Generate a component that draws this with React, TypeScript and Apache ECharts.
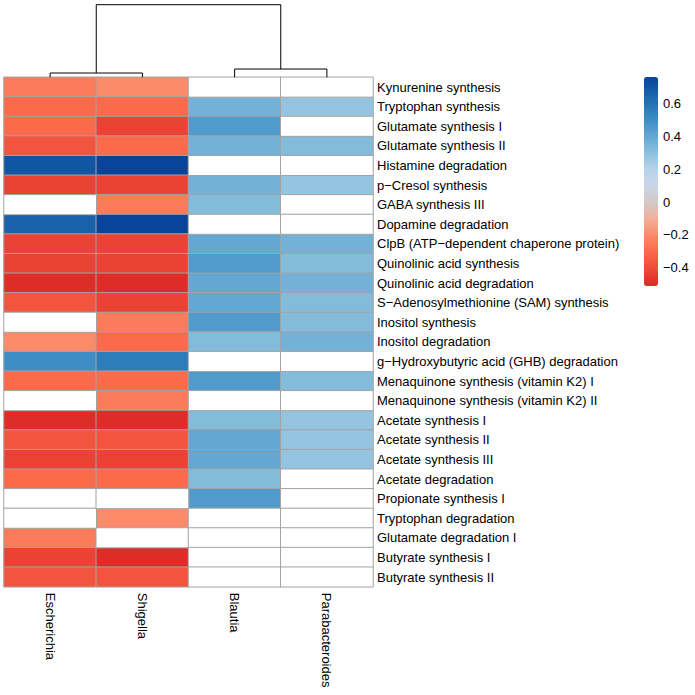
import React, { useEffect, useRef } from "react";
import * as echarts from "echarts";

const columns = ["Escherichia", "Shigella", "Blautia", "Parabacteroides"];
const rows = [
  "Kynurenine synthesis",
  "Tryptophan synthesis",
  "Glutamate synthesis I",
  "Glutamate synthesis II",
  "Histamine degradation",
  "p\u2212Cresol synthesis",
  "GABA synthesis III",
  "Dopamine degradation",
  "ClpB (ATP\u2212dependent chaperone protein)",
  "Quinolinic acid synthesis",
  "Quinolinic acid degradation",
  "S\u2212Adenosylmethionine (SAM) synthesis",
  "Inositol synthesis",
  "Inositol degradation",
  "g\u2212Hydroxybutyric acid (GHB) degradation",
  "Menaquinone synthesis (vitamin K2) I",
  "Menaquinone synthesis (vitamin K2) II",
  "Acetate synthesis I",
  "Acetate synthesis II",
  "Acetate synthesis III",
  "Acetate degradation",
  "Propionate synthesis I",
  "Tryptophan degradation",
  "Glutamate degradation I",
  "Butyrate synthesis I",
  "Butyrate synthesis II",
];

// values per column (null = not available, drawn white)
const escherichia = [-0.25, -0.3, -0.3, -0.37, 0.7, -0.43, null, 0.66, -0.43, -0.43, -0.5, -0.37, null, -0.2, 0.5, -0.3, null, -0.5, -0.37, -0.43, -0.3, null, null, -0.25, -0.43, -0.37];
const shigella = [-0.2, -0.3, -0.43, -0.3, 0.76, -0.43, -0.25, 0.76, -0.43, -0.43, -0.5, -0.43, -0.25, -0.3, 0.56, -0.3, -0.25, -0.5, -0.37, -0.43, -0.3, null, -0.2, null, -0.5, -0.37];
const blautia = [null, 0.36, 0.45, 0.36, null, 0.36, 0.32, null, 0.4, 0.45, 0.4, 0.4, 0.45, 0.32, null, 0.45, null, 0.32, 0.4, 0.4, 0.32, 0.45, null, null, null, null];
const parabacteroides = [null, 0.28, null, 0.32, null, 0.28, null, null, 0.36, 0.32, 0.36, 0.32, 0.32, 0.36, null, 0.32, null, 0.28, 0.28, 0.28, null, null, null, null, null, null];
const columnValues = [escherichia, shigella, blautia, parabacteroides];

// dendrogram merges: [xLeft, xRight, heightLeftChild, heightRightChild, mergeHeight]
const dendroMerges = [
  [0, 1, 0, 0, 0.059],
  [2, 3, 0, 0, 0.114],
  [0.5, 2.5, 0.059, 0.114, 1],
];

const legendTicks = [-0.4, -0.2, 0, 0.2, 0.4, 0.6];
const scaleMin = -0.51;
const scaleMax = 0.76;

// palette stops (value, colour)
const paletteStops: [number, string][] = [
  [-0.51, "#dc2a25"],
  [-0.4, "#ef4b39"],
  [-0.3, "#fb6a4a"],
  [-0.2, "#fc8b6a"],
  [-0.1, "#f3b09c"],
  [0, "#d2c9c7"],
  [0.1, "#c8d6e6"],
  [0.2, "#b7d4ea"],
  [0.3, "#8bc0dd"],
  [0.4, "#63a8d3"],
  [0.5, "#3e8ec5"],
  [0.6, "#2272b5"],
  [0.76, "#08449a"],
];

function hexToRgb(h: string) {
  const n = parseInt(h.slice(1), 16);
  return [(n >> 16) & 255, (n >> 8) & 255, n & 255];
}
function colorAt(v: number) {
  for (let i = 0; i < paletteStops.length - 1; i++) {
    const [v0, c0] = paletteStops[i];
    const [v1, c1] = paletteStops[i + 1];
    if (v <= v1 || i === paletteStops.length - 2) {
      const t = Math.max(0, Math.min(1, (v - v0) / (v1 - v0)));
      const a = hexToRgb(c0);
      const b = hexToRgb(c1);
      const r = a.map((x, k) => Math.round(x + (b[k] - x) * t));
      return `rgb(${r[0]},${r[1]},${r[2]})`;
    }
  }
  return paletteStops[0][1];
}

export default function App() {
  const ref = useRef<HTMLDivElement>(null);
  useEffect(() => {
    if (!ref.current) return;
    const chart = echarts.init(ref.current, undefined, { renderer: "svg" });

    const steps = 100;
    const rampColors: string[] = [];
    for (let i = 0; i <= steps; i++) {
      rampColors.push(colorAt(scaleMin + ((scaleMax - scaleMin) * i) / steps));
    }

    const valued: any[] = [];
    const missing: any[] = [];
    columnValues.forEach((col, ci) => {
      col.forEach((v, ri) => {
        if (v === null) missing.push([ci, ri, 0]);
        else valued.push([ci, ri, v]);
      });
    });

    const font = "'Liberation Sans', Arial, Helvetica, sans-serif";
    const fmt = (v: number) => (v < 0 ? "\u2212" + Math.abs(v) : String(v));

    chart.setOption({
      animation: false,
      backgroundColor: "#ffffff",
      grid: [
        { left: 4, top: 77.3, width: 369, height: 509.5 },
        { left: 4, top: 4.7, width: 369, height: 72.6 },
        { left: 644, top: 77, width: 14, height: 209 },
      ],
      xAxis: [
        {
          type: "category",
          gridIndex: 0,
          data: columns,
          position: "bottom",
          axisLine: { show: false },
          axisTick: { show: false },
          splitLine: { show: false },
          axisLabel: {
            rotate: -90,
            margin: 6,
            color: "#000",
            fontSize: 13,
            fontFamily: font,
          },
        },
        { type: "value", gridIndex: 1, min: -0.5, max: 3.5, show: false },
        { type: "value", gridIndex: 2, min: 0, max: 1, show: false },
      ],
      yAxis: [
        {
          type: "category",
          gridIndex: 0,
          data: rows,
          inverse: true,
          position: "right",
          axisLine: { show: false },
          axisTick: { show: false },
          splitLine: { show: false },
          axisLabel: {
            margin: 4,
            color: "#000",
            fontSize: 13,
            fontFamily: font,
            interval: 0,
          },
        },
        { type: "value", gridIndex: 1, min: 0, max: 1, show: false },
        {
          type: "value",
          gridIndex: 2,
          min: scaleMin,
          max: scaleMax,
          position: "right",
          axisLine: { show: false },
          axisTick: { show: false },
          splitLine: { show: false },
          axisLabel: {
            customValues: legendTicks,
            margin: 5,
            color: "#000",
            fontSize: 13,
            fontFamily: font,
            formatter: fmt,
          },
        },
      ],
      visualMap: [
        {
          type: "continuous",
          seriesIndex: 0,
          min: scaleMin,
          max: scaleMax,
          calculable: false,
          orient: "vertical",
          left: 644,
          top: 77,
          itemWidth: 14,
          itemHeight: 209,
          padding: 0,
          showLabel: false,
          inRange: { color: rampColors },
        },
        {
          type: "continuous",
          seriesIndex: 1,
          min: 0,
          max: 1,
          show: false,
          inRange: { color: ["#ffffff", "#ffffff"] },
        },
      ],
      series: [
        {
          type: "heatmap",
          xAxisIndex: 0,
          yAxisIndex: 0,
          data: valued,
          itemStyle: { borderColor: "#a3a3a3", borderWidth: 1 },
          emphasis: { disabled: true },
        },
        {
          type: "heatmap",
          xAxisIndex: 0,
          yAxisIndex: 0,
          data: missing,
          itemStyle: { color: "#ffffff", borderColor: "#a3a3a3", borderWidth: 1 },
          emphasis: { disabled: true },
        },
        {
          type: "custom",
          xAxisIndex: 1,
          yAxisIndex: 1,
          data: dendroMerges,
          silent: true,
          renderItem: (params: any, api: any) => {
            const x1 = api.value(0);
            const x2 = api.value(1);
            const h1 = api.value(2);
            const h2 = api.value(3);
            const h = api.value(4);
            const pts = [
              api.coord([x1, h1]),
              api.coord([x1, h]),
              api.coord([x2, h]),
              api.coord([x2, h2]),
            ];
            return {
              type: "polyline",
              shape: { points: pts },
              style: { stroke: "#000", lineWidth: 1, fill: "none" },
            };
          },
        },
      ],
    });
    return () => chart.dispose();
  }, []);
  return <div ref={ref} style={{ width: 695, height: 695, position: "absolute", left: 0, top: 0 }} />;
}
